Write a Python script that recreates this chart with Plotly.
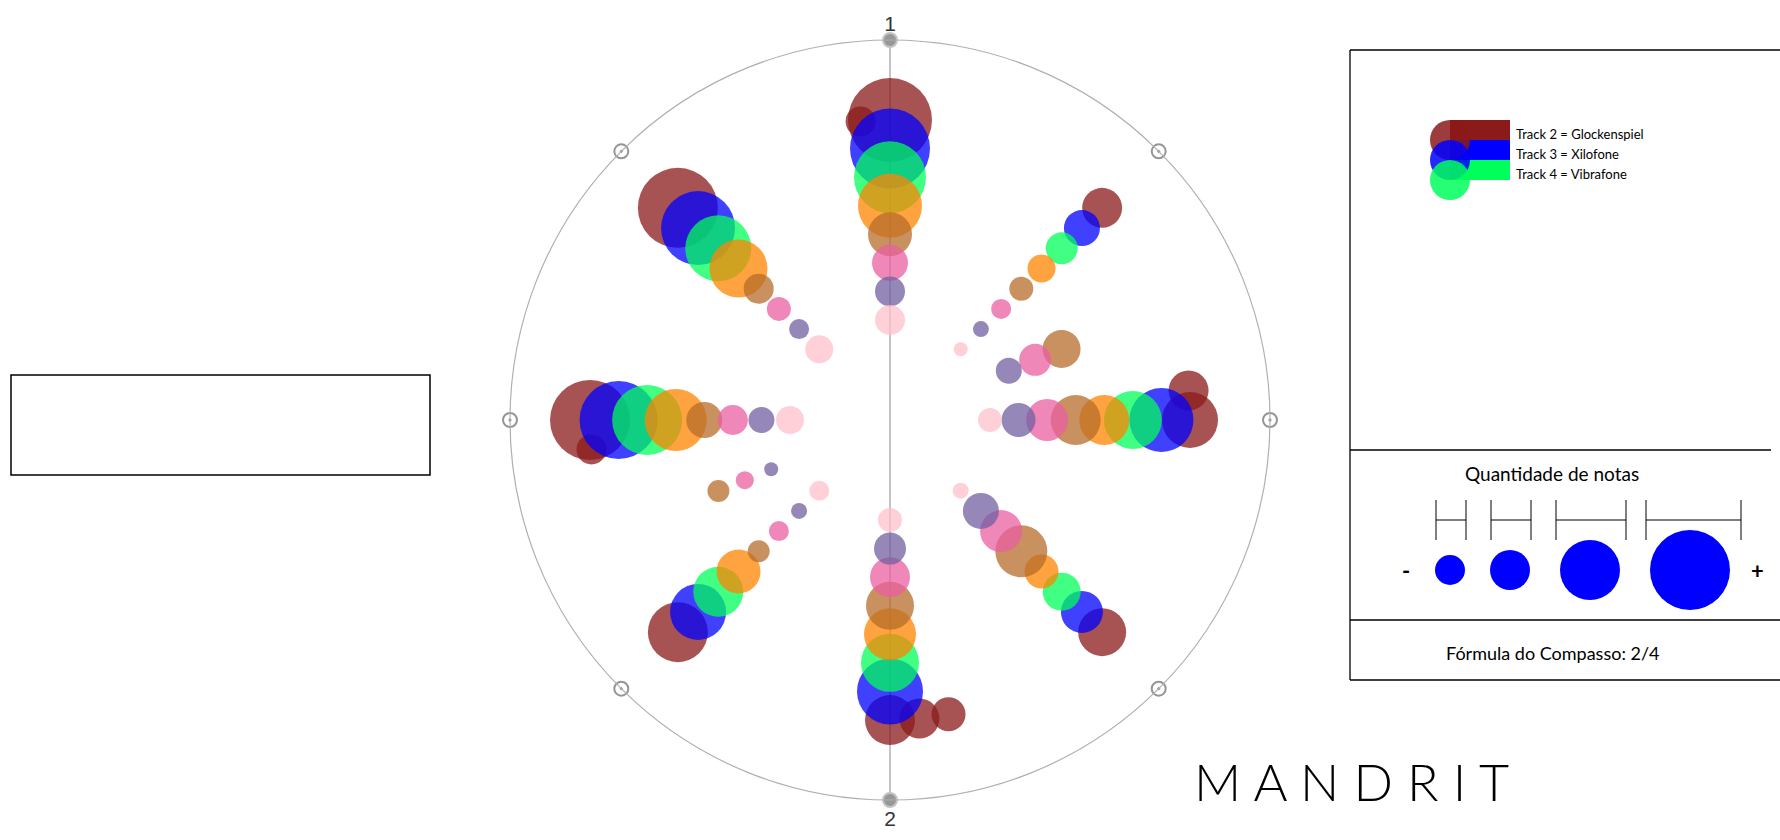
import plotly.graph_objects as go

W, H = 1780, 840

# ---------------- data ----------------
# position in the measure, in 64ths of a 2/4 bar (0 = beat 1, 32 = beat 2)
# notes = quantity of notes (bubble size)
tracks = [2, 3, 4, 5, 6, 7, 8, 9]
track_colors = ["#8B1A1A", "#0000FF", "#00FF5A", "#FF8400",
                "#B66C2A", "#EB5FA2", "#735FA2", "#FFC0CB"]

pos_t2 = [0, 63, 8, 15, 16, 24, 30, 31, 32, 40, 47, 48, 56]
notes_t2 = [42, 15, 20, 20, 28, 24, 17, 20, 25, 30, 15, 40, 40]

pos_t3 = [0, 8, 16, 24, 32, 40, 48, 56]
notes_t3 = [40, 18, 32, 21, 33, 28, 39, 37]

pos_t4 = [0, 8, 16, 24, 32, 40, 48, 56]
notes_t4 = [36, 16, 29, 19, 29, 25, 35, 33]

pos_t5 = [0, 8, 16, 24, 32, 40, 48, 56]
notes_t5 = [32, 14, 25, 17, 26, 22, 31, 29]

pos_t6 = [0, 8, 12, 16, 24, 32, 40, 44, 48, 56]
notes_t6 = [22, 12, 19, 25, 26, 24, 11, 11, 18, 15]

pos_t7 = [0, 8, 12, 16, 24, 32, 40, 44, 48, 56]
notes_t7 = [18, 10, 16, 21, 21, 20, 10, 9, 15, 12]

pos_t8 = [0, 8, 12, 16, 24, 32, 40, 44, 48, 56]
notes_t8 = [15, 8, 13, 17, 18, 16, 8, 7, 13, 10]

pos_t9 = [0, 8, 16, 24, 32, 40, 48, 56]
notes_t9 = [15, 7, 12, 8, 12, 10, 14, 14]

positions = [pos_t2, pos_t3, pos_t4, pos_t5, pos_t6, pos_t7, pos_t8, pos_t9]
notes = [notes_t2, notes_t3, notes_t4, notes_t5, notes_t6, notes_t7, notes_t8, notes_t9]

beat_ticks = [0, 180]
beat_labels = ["1", "2"]
subdiv_ticks = [45, 90, 135, 225, 270, 315]

legend_names = ["Track 2 = Glockenspiel", "Track 3 = Xilofone", "Track 4 = Vibrafone"]
size_legend = [15, 20, 30, 40]

R_MIN, R_MAX = -2.5, 10.8

# ---------------- figure ----------------
fig = go.Figure()

for trk, col, pos, nts in zip(tracks, track_colors, positions, notes):
    fig.add_trace(go.Scatterpolar(
        r=[10 - trk] * len(pos),
        theta=[p * 360 / 64 for p in pos],
        mode="markers",
        marker=dict(size=nts, sizemode="diameter", sizeref=0.5,
                    color=col, opacity=0.75, line=dict(width=0)),
        name=f"Track {trk}",
        hovertemplate="Track %d<br>notas: %%{marker.size}<extra></extra>" % trk,
    ))

# axis tick markers on the outer ring
fig.add_trace(go.Scatterpolar(
    r=[R_MAX] * len(subdiv_ticks), theta=subdiv_ticks, mode="markers",
    marker=dict(symbol="circle-open-dot", size=14, color="#959595",
                line=dict(width=2, color="#959595")),
    cliponaxis=False, hoverinfo="skip"))
fig.add_trace(go.Scatterpolar(
    r=[R_MAX] * len(beat_ticks), theta=beat_ticks, mode="markers",
    marker=dict(symbol="circle", size=14, color="#989898",
                line=dict(width=2, color="#c4c4c4")),
    cliponaxis=False, hoverinfo="skip"))

cx, r_px = 890, 380
fig.update_layout(
    width=W, height=H, margin=dict(l=0, r=0, t=0, b=0),
    paper_bgcolor="white", plot_bgcolor="white", showlegend=False,
    font=dict(family="Lato, Noto Sans, sans-serif", color="#111"),
    polar=dict(
        domain=dict(x=[(cx - r_px) / W, (cx + r_px) / W],
                    y=[(H - 420 - r_px) / H, (H - 420 + r_px) / H]),
        bgcolor="white",
        radialaxis=dict(range=[R_MIN, R_MAX], visible=False, showgrid=False,
                        showline=False, showticklabels=False, ticks=""),
        angularaxis=dict(rotation=90, direction="clockwise",
                         tickmode="array", tickvals=beat_ticks, ticktext=beat_labels,
                         showgrid=True, gridcolor="#8a8a8a", gridwidth=1.2,
                         showline=True, linecolor="#b0b0b0", linewidth=1.2,
                         ticks="", tickfont=dict(size=21, color="#333",
                                                 family="Liberation Sans, Arial")),
    ),
)

def X(x):
    return x / W

def Y(y):
    return 1 - y / H

shapes = []

def line(x0, y0, x1, y1, w=1.3):
    shapes.append(dict(type="line", xref="paper", yref="paper",
                       x0=X(x0), y0=Y(y0), x1=X(x1), y1=Y(y1),
                       line=dict(color="black", width=w)))

def circle(cxp, cyp, rad, color, op=1.0):
    shapes.append(dict(type="circle", xref="paper", yref="paper",
                       x0=X(cxp - rad), x1=X(cxp + rad), y0=Y(cyp + rad), y1=Y(cyp - rad),
                       fillcolor=color, opacity=op, line=dict(width=0)))

def rect(x0, y0, x1, y1, color):
    shapes.append(dict(type="rect", xref="paper", yref="paper",
                       x0=X(x0), x1=X(x1), y0=Y(y1), y1=Y(y0),
                       fillcolor=color, line=dict(width=0)))

def text(x, y, s, size, anchor="center", **kw):
    return dict(x=X(x), y=Y(y), xref="paper", yref="paper", text=s, showarrow=False,
                xanchor=anchor, yanchor="middle",
                font=dict(size=size, color="black", **kw))

# left empty box
shapes.append(dict(type="rect", xref="paper", yref="paper",
                   x0=X(11), x1=X(430), y0=Y(475), y1=Y(375),
                   line=dict(color="black", width=1.5)))

# right panel frame
line(1350, 50, 1780, 50)
line(1350, 50, 1350, 680)
line(1350, 680, 1780, 680)
line(1350, 450, 1771, 450)
line(1350, 620, 1780, 620)

# track legend swatches
band_tops = [120, 140, 160]
for col, top in zip(track_colors[:3], band_tops):
    rect(1450, top, 1510, top + 20, col)
for col, cyc in zip(track_colors[:3], [140, 160, 180]):
    circle(1450, cyc, 20, col, 0.85)

annotations = []
for name, top in zip(legend_names, band_tops):
    annotations.append(text(1514, top + 14, name, 13, anchor="left"))

# size legend
annotations.append(text(1552, 473, "Quantidade de notas", 19))
brackets = [(1436, 1466), (1491, 1531), (1556, 1626), (1646, 1741)]
for a, b in brackets:
    line(a, 500, a, 540, 1)
    line(b, 500, b, 540, 1)
    line(a, 520, b, 520, 1)
for q, xc in zip(size_legend, [1450, 1510, 1590, 1690]):
    circle(xc, 570, q, "#0000FF")
annotations.append(text(1406, 570, "<b>-</b>", 22))
annotations.append(text(1757, 570, "<b>+</b>", 22))
annotations.append(text(1553, 653, "Fórmula do Compasso: 2/4", 18))

# title
annotations.append(text(1351, 781, "M A N D R I T", 52, weight=300,
                        family="Lato, Noto Sans, sans-serif"))

fig.update_layout(shapes=shapes, annotations=annotations)

fig.write_html("out.html")
